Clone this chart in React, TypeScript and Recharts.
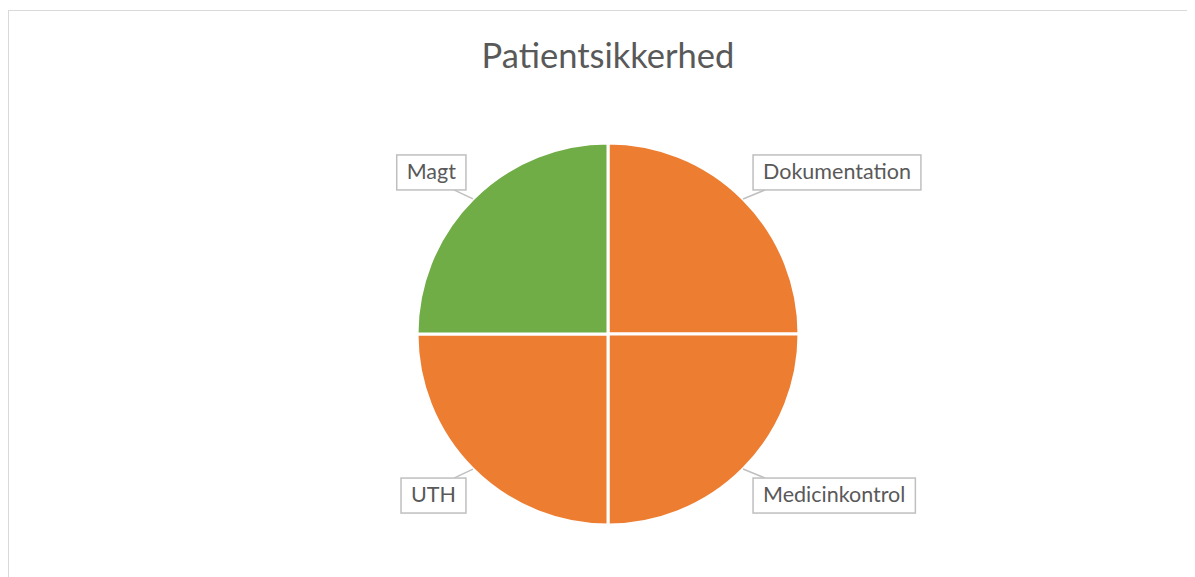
import React from "react"
import { PieChart, Pie, Cell } from "recharts"

const categories = ["Dokumentation", "Medicinkontrol", "UTH", "Magt"]
const values = [1, 1, 1, 1]
const sliceColors = ["#ED7D31", "#ED7D31", "#ED7D31", "#70AD47"]

const data = categories.map((name, i) => ({ name, value: values[i] }))

const FONT = "Lato, 'Open Sans', sans-serif"
const LABEL_SIZE = 21.5

if (typeof document !== "undefined") {
  document.documentElement.style.overflow = "hidden"
  document.body.style.overflow = "hidden"
}

function textWidth(text: string, size: number) {
  const c = document.createElement("canvas").getContext("2d")
  if (!c) return text.length * size * 0.55
  c.font = `${size}px Lato`
  return c.measureText(text).width
}

const RADIAN = Math.PI / 180

function renderLabel(props: any) {
  const { cx, cy, midAngle, outerRadius, name } = props
  const ax = cx + outerRadius * Math.cos(-midAngle * RADIAN)
  const ay = cy + outerRadius * Math.sin(-midAngle * RADIAN)
  const right = ax > cx
  const top = ay < cy
  const w = textWidth(name, LABEL_SIZE) + 20
  const h = 35
  const bx = right ? ax + 10 : ax - 7 - w
  const by = top ? ay - 9 - h : ay + 9
  const cornerX = right ? bx + 12 : bx + w - 12
  const cornerY = top ? by + h : by
  return (
    <g>
      <line x1={ax} y1={ay} x2={cornerX} y2={cornerY} stroke="#BFBFBF" strokeWidth={1.5} />
      <rect x={bx} y={by} width={w} height={h} fill="#fff" stroke="#BFBFBF" strokeWidth={1.5} />
      <text
        x={bx + w / 2}
        y={by + h / 2 + 1}
        textAnchor="middle"
        dominantBaseline="middle"
        fill="#595959"
        fontSize={LABEL_SIZE}
        fontFamily={FONT}
      >
        {name}
      </text>
    </g>
  )
}

export default function App() {
  return (
    <div
      style={{
        marginTop: 2,
        width: 1185,
        height: 600,
        border: "1px solid #D9D9D9",
        position: "relative",
        background: "#fff",
        overflow: "hidden",
      }}
    >
      <div
        style={{
          position: "absolute",
          top: 24,
          left: 0,
          width: 1198,
          textAlign: "center",
          fontFamily: FONT,
          fontSize: 34.5,
          color: "#595959",
          lineHeight: "40px",
        }}
      >
        Patientsikkerhed
      </div>
      <PieChart width={1185} height={600}>
        <Pie
          data={data}
          dataKey="value"
          nameKey="name"
          cx={594}
          cy={318}
          outerRadius={191}
          startAngle={90}
          endAngle={-270}
          stroke="#fff"
          strokeWidth={3}
          label={renderLabel}
          labelLine={false}
          isAnimationActive={false}
        >
          {data.map((d, i) => (
            <Cell key={d.name} fill={sliceColors[i]} />
          ))}
        </Pie>
      </PieChart>
    </div>
  )
}
